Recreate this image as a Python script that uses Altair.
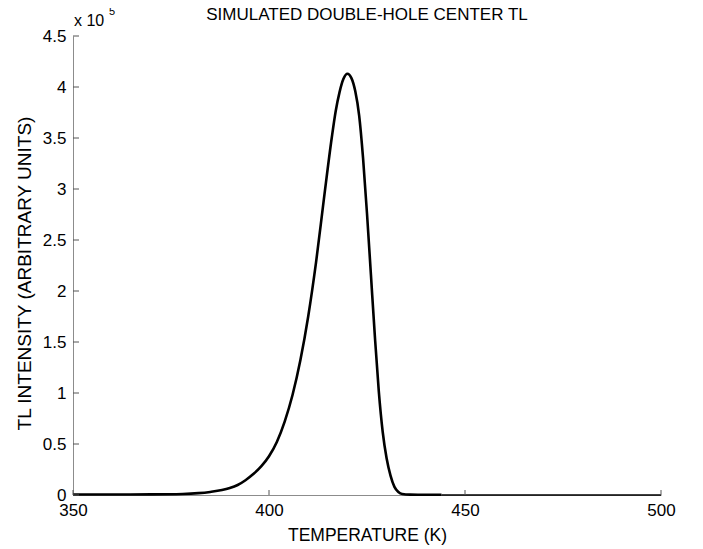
import altair as alt
import pandas as pd

# Temperature (K) and TL intensity (units of 1e5)
temps = [350, 360, 370, 378, 382, 385, 388, 390, 392, 394, 396, 398, 400, 402,
         404, 406, 408, 410, 412, 414, 416, 417, 418, 419, 420, 421, 422, 423,
         424, 425, 426, 427, 428, 429, 430, 431, 432, 433, 434, 436, 440, 444]
intensity_e5 = [0.005, 0.005, 0.006, 0.01, 0.018, 0.03, 0.048, 0.068, 0.098, 0.145,
                0.205, 0.28, 0.38, 0.52, 0.72, 0.98, 1.32, 1.75, 2.28, 2.90, 3.50,
                3.76, 3.95, 4.08, 4.13, 4.09, 3.96, 3.72, 3.30, 2.76, 2.16, 1.56,
                1.02, 0.62, 0.36, 0.19, 0.08, 0.03, 0.01, 0.004, 0.002, 0.002]
tail_temps = [444, 500]
tail_values = [0, 0]

x_ticks = [350, 400, 450, 500]
y_ticks = [0, 50000, 100000, 150000, 200000, 250000, 300000, 350000, 400000, 450000]
title_text = "SIMULATED DOUBLE-HOLE CENTER TL"

W, H = 588, 459
FONT = "Liberation Sans"
FS = 17

main = pd.DataFrame({"T": temps, "I": [v * 1e5 for v in intensity_e5]})
tail = pd.DataFrame({"T": tail_temps, "I": tail_values})

xscale = alt.Scale(domain=[350, 500], nice=False, zero=False)
yscale = alt.Scale(domain=[0, 450000], nice=False)

xaxis = alt.Axis(values=x_ticks, tickSize=0, labelPadding=7, domainColor="#8c8c8c",
                 labelFontSize=FS, labelFont=FONT, labelColor="#000", grid=False,
                 labelFlush=False, labelOverlap=False,
                 title="TEMPERATURE (K)", titleFont=FONT, titleFontSize=17.5,
                 titleFontWeight="normal", titleColor="#000", titlePadding=8)
yaxis = alt.Axis(values=y_ticks, tickSize=0, labelPadding=7, domainColor="#8c8c8c",
                 labelFontSize=FS, labelFont=FONT, labelColor="#000", grid=False,
                 labelFlush=False, labelOverlap=False,
                 labelExpr="datum.value / 100000",
                 title="TL INTENSITY (ARBITRARY UNITS)", titleFont=FONT, titleFontSize=19,
                 titleFontWeight="normal", titleColor="#000",
                 titleX=-49, titleY=237, titleAlign="center", titleBaseline="middle",
                 titleAngle=270)

curve = alt.Chart(main).mark_line(color="black", strokeWidth=2.6, interpolate="monotone").encode(
    x=alt.X("T:Q", scale=xscale, axis=xaxis),
    y=alt.Y("I:Q", scale=yscale, axis=yaxis),
)
tail_line = alt.Chart(tail).mark_line(color="black", strokeWidth=1.3).encode(
    x=alt.X("T:Q", scale=xscale),
    y=alt.Y("I:Q", scale=yscale),
)

xt = alt.Chart(pd.DataFrame({"t": x_ticks})).mark_rule(color="#555", strokeWidth=1).encode(
    x=alt.X("t:Q", scale=xscale), y=alt.value(H), y2=alt.value(H - 5))
yt = alt.Chart(pd.DataFrame({"t": y_ticks})).mark_rule(color="#555", strokeWidth=1).encode(
    y=alt.Y("t:Q", scale=yscale), x=alt.value(0), x2=alt.value(6))

exp_base = alt.Chart(pd.DataFrame({"s": ["x 10"]})).mark_text(
    font=FONT, fontSize=16, align="left", baseline="alphabetic", color="#000").encode(
    text="s:N", x=alt.value(1), y=alt.value(-10))
exp_pow = alt.Chart(pd.DataFrame({"s": ["5"]})).mark_text(
    font=FONT, fontSize=11, align="left", baseline="alphabetic", color="#000").encode(
    text="s:N", x=alt.value(36), y=alt.value(-21))
title_mark = alt.Chart(pd.DataFrame({"s": [title_text]})).mark_text(
    font=FONT, fontSize=FS, align="center", baseline="alphabetic", color="#000").encode(
    text="s:N", x=alt.value(W / 2), y=alt.value(-16))

chart = alt.layer(curve, tail_line, xt, yt, exp_base, exp_pow, title_mark).properties(
    width=W, height=H,
    autosize=alt.AutoSizeParams(type="none"),
    padding={"left": 65, "top": 28, "right": 20, "bottom": 50},
).configure(background="white").configure_view(strokeWidth=0, stroke="transparent")

chart.save("out.html", embed_options={"renderer": "svg", "actions": False})
